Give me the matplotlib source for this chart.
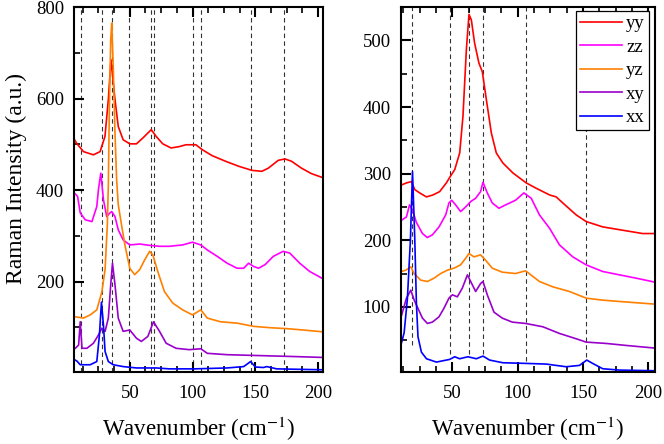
import matplotlib
matplotlib.use('Agg')
import matplotlib.pyplot as plt

# general look: Times-like serif font, ticks pointing inwards
plt.rcParams['font.family'] = ['Liberation Serif', 'DejaVu Serif']
plt.rcParams['mathtext.fontset'] = 'stix'

# ---------------- left panel data ----------------
left_yy_x = [6, 7.4, 13.1, 21, 26.3, 30.2, 32.9, 35, 38.2, 40.8, 44.7, 50, 55.3, 60.5, 67.1,
             71.1, 76.3, 82.9, 89.5, 94.8, 102.7, 107.9, 115.8, 126.3, 136.8, 147.4, 155.3,
             160.5, 168.4, 173.7, 178.9, 186.8, 194.7, 204]
left_yy = [510, 503, 484, 477, 484, 517, 598, 685, 598, 539, 510, 501, 501, 514, 532,
           517, 501, 492, 495, 499, 499, 488, 475, 463, 452, 443, 441,
           448, 465, 468, 463, 448, 436, 427]

left_zz_x = [6, 8.4, 10.5, 14.5, 19.8, 23.7, 25, 26.9, 29, 31.6, 34.2, 35.6, 38.2, 40.8,
             44.7, 50, 57.9, 65.8, 73.7, 81.6, 92.1, 100, 106.6, 111.8, 119.7, 127.6,
             135.5, 140.8, 144.7, 148.7, 152.6, 157.9, 164.4, 172.3, 177.6, 185.5, 193.4, 204]
left_zz = [393, 386, 350, 335, 331, 364, 401, 437, 379, 342, 350, 353, 342, 313,
           291, 280, 282, 279, 277, 277, 280, 286, 280, 269, 255, 240,
           229, 229, 240, 233, 229, 237, 255, 266, 262, 240, 222, 206]

left_yz_x = [6, 13.1, 18.4, 23.7, 27.7, 30.3, 32.1, 32.9, 33.7, 34.8, 35.6, 36.8, 38.2, 39.5,
             40.8, 43.4, 46.1, 50, 53.9, 57.9, 61.8, 65.8, 68.4, 72.3, 77.6, 84.2, 92.1,
             100, 106.6, 111.8, 122.3, 135.5, 148.7, 161.8, 174.9, 188.1, 204]
left_yz = [123, 120, 127, 138, 177, 226, 324, 412, 576, 729, 765, 670, 525, 423,
           368, 324, 280, 229, 215, 226, 247, 266, 258, 222, 178, 153, 138,
           127, 138, 120, 112, 109, 102, 99, 97, 94, 90]

left_xy_x = [6.6, 9.2, 10.5, 11.9, 15.8, 21, 25, 27.7, 30.3, 32.9, 34.8, 36.2, 38.2, 40.8,
             44.7, 50, 55.3, 59.2, 64.4, 68.9, 73.7, 79, 86.9, 97.4, 106.6, 111.8, 127.6,
             153.9, 180.2, 204]
left_xy = [54, 61, 112, 54, 54, 65, 83, 98, 91, 120, 193, 240, 193, 120,
           91, 94, 76, 69, 80, 112, 91, 65, 54, 51, 53, 43, 40,
           38, 36, 34]

left_xx_x = [6, 7.9, 10.5, 18.4, 23.7, 25.8, 27.4, 29, 30.3, 32.9, 36.8, 44.7, 55.3, 71.1,
             81.6, 101.3, 127.6, 140.8, 146.3, 150.2, 156.6, 159.2, 167.1, 204]
left_xx = [29, 26, 18, 18, 25, 83, 155, 105, 47, 25, 18, 14, 11, 11,
           9, 9, 11, 14, 25, 13, 12, 14, 9, 7]

# ---------------- right panel data ----------------
right_yy_x = [11.1, 14.9, 18.7, 21.2, 25, 30.2, 35.2, 40.3, 45.4, 48.5, 51.8, 55.6, 58.1,
              60.7, 62.7, 64.5, 67, 70.3, 72.9, 76, 79.8, 83.6, 88.6, 96.3, 106.5, 114.1,
              124.3, 129.4, 134.4, 144.7, 152.3, 165, 180.2, 195.5, 205]
right_yy = [283, 286, 288, 276, 271, 265, 268, 273, 286, 296, 306, 331, 386,
            486, 539, 531, 496, 466, 453, 411, 361, 331, 316, 301, 286, 278,
            268, 265, 256, 238, 228, 220, 215, 210, 210]

right_zz_x = [11.1, 14.9, 17.2, 19.7, 22.4, 27.1, 30.9, 34.7, 39.8, 44.9, 47.4, 49.5, 52.5,
              56.3, 60.2, 64, 67.8, 71.6, 73.4, 76.7, 80.5, 85.6, 90.7, 98.3, 104.7, 110.3,
              116.6, 124.3, 131.9, 142.1, 152.3, 165, 177.7, 190.5, 205]
right_zz = [230, 235, 253, 244, 227, 210, 204, 208, 220, 238, 256, 260, 253,
            243, 250, 258, 263, 273, 287, 271, 256, 248, 253, 260, 271, 263,
            238, 218, 193, 175, 163, 153, 148, 143, 137]

right_yz_x = [10.9, 14.4, 18.2, 20.7, 25.8, 30.9, 36, 41.1, 46.2, 51.2, 56.3, 60.2, 62.7,
              66.5, 71.6, 75.4, 80.5, 88.2, 98.3, 106, 116.6, 126.8, 139.5, 152.3, 165,
              177.7, 205]
right_yz = [153, 155, 160, 150, 140, 138, 143, 150, 155, 158, 163, 173, 180,
            175, 178, 170, 158, 152, 150, 154, 138, 130, 123, 113, 110,
            108, 104]

right_xy_x = [11.1, 14.9, 18.2, 20.8, 24.3, 27.1, 30.9, 34.7, 39.8, 43.6, 47.4, 50, 53.8,
              57.6, 61.5, 64, 67.8, 71.6, 73.4, 76.7, 81.8, 88.2, 95.8, 106, 119.2, 131.9,
              144.7, 152.3, 167.6, 182.8, 205]
right_xy = [87, 113, 125, 110, 95, 83, 75, 77, 85, 98, 113, 118, 115,
            128, 148, 138, 123, 135, 138, 118, 92, 83, 77, 75, 70, 60,
            52, 47, 45, 42, 38]

right_xx_x = [11.1, 13.1, 15.6, 17.9, 19.5, 21.2, 22.5, 23.7, 26.3, 30.2, 37.8, 47.9, 51.8,
              55.6, 61.9, 68.3, 73.4, 78.5, 88.6, 106.5, 121.8, 137, 147.2, 152.8, 157.3,
              165, 177.7, 205]
right_xx = [46, 61, 112, 200, 303, 205, 105, 55, 32, 22, 17, 21, 25,
            22, 25, 22, 26, 20, 16, 15, 14, 10, 12, 20, 15,
            7, 5, 4]

labels = ['yy', 'zz', 'yz', 'xy', 'xx']
colors = ['#ff0000', '#ff00ff', '#ff8000', '#9900cc', '#0000ff']

# dashed marker lines (peak positions)
left_marks = [11, 27.7, 36, 49.5, 66.6, 69.2, 100, 107.1, 146.5, 173.1]
right_marks = [19.2, 48.2, 62.4, 73.1, 106.3, 152.5]
right_mark_bottom = [0.075, 0.05, 0.05, 0.05, 0.03, 0.04]

left_curves = [(left_yy_x, left_yy), (left_zz_x, left_zz), (left_yz_x, left_yz),
               (left_xy_x, left_xy), (left_xx_x, left_xx)]
right_curves = [(right_yy_x, right_yy), (right_zz_x, right_zz), (right_yz_x, right_yz),
                (right_xy_x, right_xy), (right_xx_x, right_xx)]

fig = plt.figure(figsize=(6.64, 4.44), dpi=100)
ax1 = fig.add_axes([0.1114, 0.162, 0.375, 0.822])
ax2 = fig.add_axes([0.6035, 0.162, 0.383, 0.822])

# left panel
for xm in left_marks:
    ax1.axvline(xm, color='#333333', ls=(0, (4, 3)), lw=0.8, zorder=1)
for (xs, ys), c, lab in zip(left_curves, colors, labels):
    ax1.plot(xs, ys, color=c, lw=1.2, label=lab, zorder=2)
ax1.set_xlim(5.5, 204)
ax1.set_ylim(2, 800)
ax1.set_yticks([200, 400, 600, 800])
ax1.set_yticks([100, 300, 500, 700], minor=True)

# right panel
for xm, yb in zip(right_marks, right_mark_bottom):
    ax2.axvline(xm, ymin=yb, ymax=1, color='#333333', ls=(0, (4, 3)), lw=0.8, zorder=1)
for (xs, ys), c, lab in zip(right_curves, colors, labels):
    ax2.plot(xs, ys, color=c, lw=1.2, label=lab, zorder=2)
ax2.set_xlim(10.5, 205)
ax2.set_ylim(2, 550)
ax2.set_yticks([100, 200, 300, 400, 500])
ax2.set_yticks([50, 150, 250, 350, 450], minor=True)

leg = ax2.legend(loc='upper right', bbox_to_anchor=(0.991, 1.0), fontsize=13.5, frameon=True,
                 fancybox=False, framealpha=1, edgecolor='black', handlelength=2.25,
                 handletextpad=0.2, labelspacing=0.34, borderpad=0.22, borderaxespad=0.2)
leg.get_frame().set_linewidth(0.9)
leg.set_zorder(5)

for ax in (ax1, ax2):
    ax.set_xticks([50, 100, 150, 200])
    ax.set_xticks([12.5, 25, 37.5, 62.5, 75, 87.5, 112.5, 125, 137.5, 162.5, 175, 187.5], minor=True)
    ax.tick_params(which='both', direction='in', top=True, right=False, labelsize=13.5)
    ax.tick_params(axis='x', which='both', pad=9)
    ax.tick_params(axis='y', which='both', pad=7)
    ax.tick_params(which='major', length=7, width=1.5)
    ax.tick_params(which='minor', length=4, width=1.2)
    for s in ax.spines.values():
        s.set_linewidth(1.5)
    ax.set_xlabel(r'Wavenumber (cm$^{-1}$)', fontsize=16.5)
    ax.xaxis.set_label_coords(0.5, -0.116)

ax1.set_ylabel('Raman Intensity (a.u.)', fontsize=17)
ax1.yaxis.set_label_coords(-0.19, 0.53)

fig.savefig('out.png', dpi=100)
